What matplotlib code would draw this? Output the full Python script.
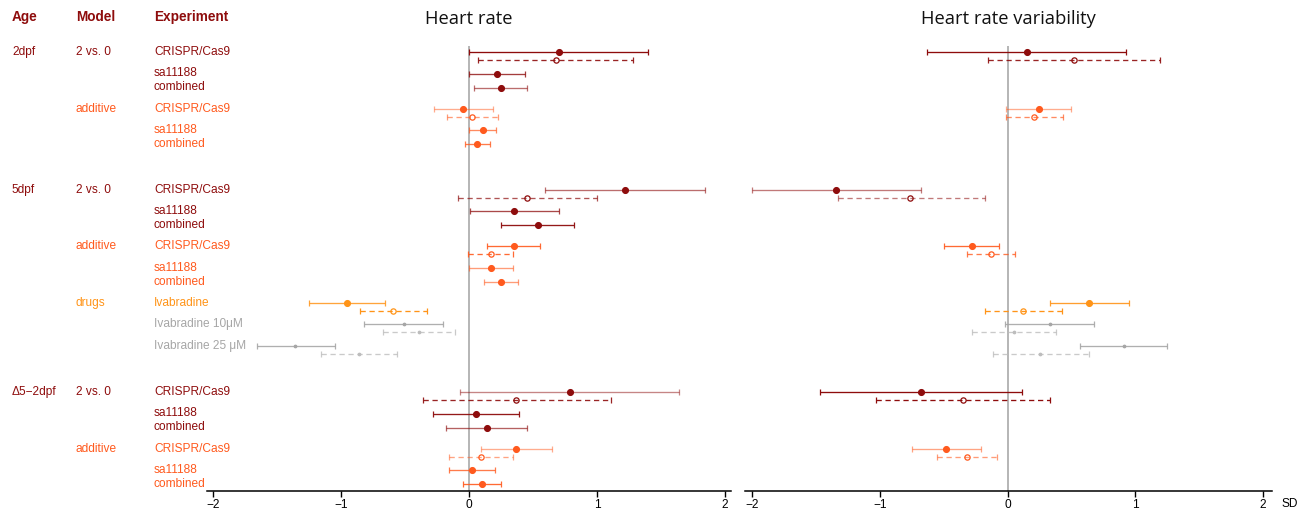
import numpy as np
import matplotlib
matplotlib.use("Agg")
import matplotlib.pyplot as plt
from matplotlib import transforms
from matplotlib.colors import to_rgba

nan = np.nan

# ---------------- data ----------------
row_age = ["2dpf", "", "", "", "", "",
           "5dpf", "", "", "", "", "", "", "", "",
           "Δ5−2dpf", "", "", "", "", ""]
row_block = [0] * 6 + [1] * 9 + [2] * 6
row_model = ["2 vs. 0", "", "", "additive", "", "",
             "2 vs. 0", "", "", "additive", "", "", "drugs", "", "",
             "2 vs. 0", "", "", "additive", "", ""]
row_group = ["2 vs. 0"] * 3 + ["additive"] * 3 + \
            ["2 vs. 0"] * 3 + ["additive"] * 3 + ["drugs", "dose", "dose"] + \
            ["2 vs. 0"] * 3 + ["additive"] * 3
row_experiment = ["CRISPR/Cas9", "sa11188", "combined", "CRISPR/Cas9", "sa11188", "combined",
                  "CRISPR/Cas9", "sa11188", "combined", "CRISPR/Cas9", "sa11188", "combined",
                  "Ivabradine", "Ivabradine 10μM", "Ivabradine 25 μM",
                  "CRISPR/Cas9", "sa11188", "combined", "CRISPR/Cas9", "sa11188", "combined"]

# Heart rate: solid estimate (mean, lower, upper)
hr_mean = [0.70, 0.22, 0.25, -0.045, 0.11, 0.065,
           1.22, 0.35, 0.54, 0.35, 0.17, 0.25, -0.955, -0.51, -1.36,
           0.785, 0.055, 0.14, 0.37, 0.02, 0.10]
hr_lo = [0.00, 0.00, 0.04, -0.27, 0.00, -0.03,
         0.59, 0.01, 0.25, 0.14, 0.00, 0.12, -1.25, -0.82, -1.66,
         -0.07, -0.28, -0.18, 0.09, -0.16, -0.05]
hr_hi = [1.40, 0.44, 0.45, 0.19, 0.21, 0.165,
         1.84, 0.70, 0.82, 0.555, 0.34, 0.38, -0.66, -0.20, -1.05,
         1.64, 0.39, 0.45, 0.645, 0.20, 0.25]
# Heart rate: dashed estimate
hr2_mean = [0.68, nan, nan, 0.025, nan, nan,
            0.45, nan, nan, 0.17, nan, nan, -0.59, -0.39, -0.86,
            0.37, nan, nan, 0.09, nan, nan]
hr2_lo = [0.07, nan, nan, -0.17, nan, nan,
          -0.09, nan, nan, -0.005, nan, nan, -0.85, -0.67, -1.16,
          -0.36, nan, nan, -0.16, nan, nan]
hr2_hi = [1.28, nan, nan, 0.23, nan, nan,
          1.00, nan, nan, 0.34, nan, nan, -0.33, -0.11, -0.56,
          1.11, nan, nan, 0.34, nan, nan]

# Heart rate variability: solid estimate
hrv_mean = [0.15, nan, nan, 0.245, nan, nan,
            -1.345, nan, nan, -0.28, nan, nan, 0.64, 0.33, 0.91,
            -0.68, nan, nan, -0.48, nan, nan]
hrv_lo = [-0.63, nan, nan, -0.01, nan, nan,
          -2.00, nan, nan, -0.50, nan, nan, 0.33, -0.02, 0.57,
          -1.465, nan, nan, -0.75, nan, nan]
hrv_hi = [0.93, nan, nan, 0.50, nan, nan,
          -0.68, nan, nan, -0.065, nan, nan, 0.95, 0.68, 1.245,
          0.11, nan, nan, -0.21, nan, nan]
# Heart rate variability: dashed estimate
hrv2_mean = [0.52, nan, nan, 0.21, nan, nan,
             -0.76, nan, nan, -0.13, nan, nan, 0.124, 0.047, 0.254,
             -0.35, nan, nan, -0.32, nan, nan]
hrv2_lo = [-0.15, nan, nan, -0.015, nan, nan,
           -1.33, nan, nan, -0.32, nan, nan, -0.18, -0.275, -0.115,
           -1.03, nan, nan, -0.55, nan, nan]
hrv2_hi = [1.19, nan, nan, 0.435, nan, nan,
           -0.18, nan, nan, 0.06, nan, nan, 0.426, 0.38, 0.64,
           0.33, nan, nan, -0.08, nan, nan]

x_ticks = [-2, -1, 0, 1, 2]
panel_titles = ["Heart rate", "Heart rate variability"]
headers = ["Age", "Model", "Experiment"]

# ---------------- style ----------------
group_colors = {"2 vs. 0": "#8E0C0C", "additive": "#FF5A1E",
                "drugs": "#FF9418", "dose": "#A6A6A6"}
header_color = "#8E0C0C"
# line opacity per row (solid / dashed) for each panel
hr_alpha = [1.0, 0.8, 0.6, 0.5, 0.7, 0.8, 0.6, 0.75, 0.95, 0.9, 0.6, 0.6,
            0.85, 0.9, 0.9, 0.5, 0.95, 0.65, 0.5, 0.8, 0.9]
hr2_alpha = [0.9, 1, 1, 0.6, 1, 1, 0.7, 1, 1, 0.9, 1, 1,
             1.0, 0.8, 0.8, 0.9, 1, 1, 0.55, 1, 1]
hrv_alpha = [1.0, 1, 1, 0.5, 1, 1, 0.55, 1, 1, 0.9, 1, 1,
             0.9, 0.9, 0.9, 1.0, 1, 1, 0.55, 1, 1]
hrv2_alpha = [0.9, 1, 1, 0.7, 1, 1, 0.55, 1, 1, 0.8, 1, 1,
              1.0, 0.8, 0.8, 1.0, 1, 1, 0.6, 1, 1]

plt.rcParams["font.family"] = ["Liberation Sans", "DejaVu Sans"]

W, H = 1311, 512
fig = plt.figure(figsize=(W / 100, H / 100), dpi=100)

ax_bottom_px, ax_top_px = 491, 46
axL = fig.add_axes([206.7 / W, (H - ax_bottom_px) / H, 524.8 / W, (ax_bottom_px - ax_top_px) / H])
axR = fig.add_axes([744.6 / W, (H - ax_bottom_px) / H, 527.0 / W, (ax_bottom_px - ax_top_px) / H])

# ---------------- row layout (procedural) ----------------
n = len(row_experiment)
has_pair = [not np.isnan(v) for v in hr2_mean]
row_y = []
y = 52.0
for i in range(n):
    row_y.append(y)
    if i == n - 1:
        break
    if row_experiment[i] == "sa11188":
        step = 14.0
    elif has_pair[i]:
        step = 21.5
    else:
        step = 21.0
    if row_block[i + 1] != row_block[i]:
        step += 24.75
    y += step
pair_off = 8.0
dash = (0, (4.0, 2.8))


def draw_bar(ax, yy, m, lo, hi, color, alpha, dashed, small):
    if np.isnan(m):
        return
    lc = to_rgba(color, alpha)
    if small:
        ms, mfc = 1.8, color
    elif dashed:
        ms, mfc = 3.8, "none"
    else:
        ms, mfc = 4.2, color
    eb = ax.errorbar([m], [yy], xerr=[[m - lo], [hi - m]], fmt="o",
                     color=color, ecolor=lc, elinewidth=0.95, capsize=2.1,
                     capthick=0.95, ms=ms, mfc=mfc, mec=color, mew=0.9, zorder=3)
    if dashed:
        eb[2][0].set_linestyle(dash)


panels = [
    (axL, hr_mean, hr_lo, hr_hi, hr2_mean, hr2_lo, hr2_hi, hr_alpha, hr2_alpha),
    (axR, hrv_mean, hrv_lo, hrv_hi, hrv2_mean, hrv2_lo, hrv2_hi, hrv_alpha, hrv2_alpha),
]
for (ax, m1, l1, h1, m2, l2, h2, a1, a2) in panels:
    for i in range(n):
        col = group_colors[row_group[i]]
        small = row_group[i] == "dose"
        col2 = "#BDBDBD" if small else col
        draw_bar(ax, row_y[i], m1[i], l1[i], h1[i], col, a1[i], False, small)
        draw_bar(ax, row_y[i] + pair_off, m2[i], l2[i], h2[i], col2, a2[i], True, small)
    ax.axvline(0, color="#A9A9A9", lw=1.2, zorder=1)
    ax.set_ylim(ax_bottom_px, ax_top_px)
    ax.set_xticks(x_ticks)
    ax.set_xticklabels([f"{t}".replace("-", "−") for t in x_ticks])
    for s in ["top", "left", "right"]:
        ax.spines[s].set_visible(False)
    ax.spines["bottom"].set_linewidth(1.1)
    ax.set_yticks([])
    ax.tick_params(axis="x", length=4, width=1.0, pad=1.5, labelsize=8.6)

axL.set_xlim(-2.049, 2.05)
axR.set_xlim(-2.058, 2.066)

# titles
for ax, t in zip([axL, axR], panel_titles):
    bb = ax.get_position()
    fig.text((bb.x0 + bb.x1) / 2, 1 - 19 / H, t, ha="center", va="center",
             fontsize=13.2, family=["Open Sans", "DejaVu Sans"], color="#111111")

# headers and row labels
col_x = [12 / W, 76 / W, 154 / W]
for x, h in zip(col_x, headers):
    fig.text(x, 1 - 17 / H, h, ha="left", va="center", fontsize=9.8,
             fontweight="bold", color=header_color)

tr = transforms.blended_transform_factory(fig.transFigure, axL.transData)
for i in range(n):
    col = group_colors[row_group[i]]
    if row_age[i]:
        fig.text(col_x[0], row_y[i], row_age[i], transform=tr, ha="left",
                 va="center", fontsize=8.6, color=group_colors["2 vs. 0"])
    if row_model[i]:
        fig.text(col_x[1], row_y[i], row_model[i], transform=tr, ha="left",
                 va="center", fontsize=8.6, color=col)
    fig.text(col_x[2], row_y[i], row_experiment[i], transform=tr, ha="left",
             va="center", fontsize=8.6, color=col)

fig.text(1290 / W, 1 - 504 / H, "SD", ha="center", va="center", fontsize=8.6)

fig.savefig("out.png", dpi=100)
